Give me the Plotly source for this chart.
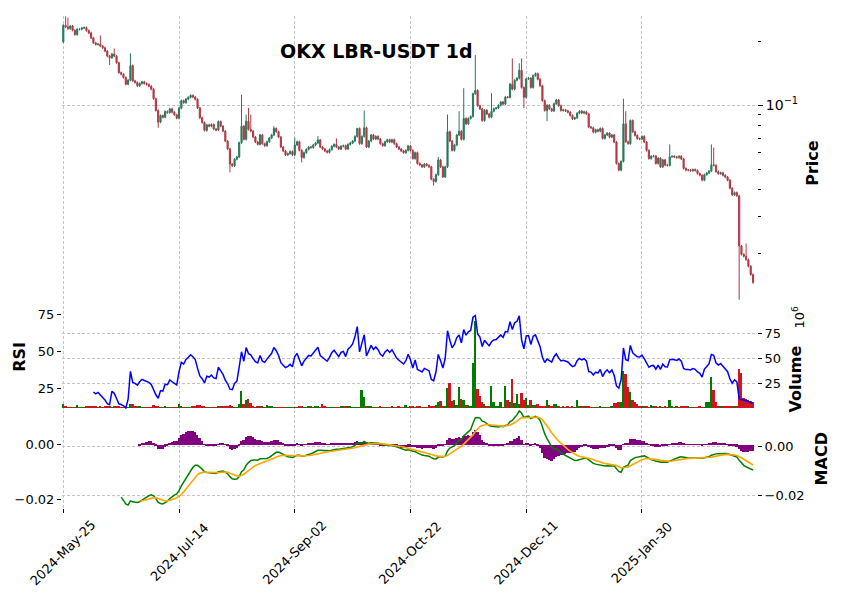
import numpy as np
import pandas as pd
import plotly.graph_objects as go

# ---------------- data ----------------
start_date = "2024-05-25"
first_open = 0.1987
closes = [
    0.2377, 0.2335, 0.2293, 0.2360, 0.2252, 0.2150, 0.2277, 0.2277, 0.2310, 0.2318,
    0.2244, 0.2189, 0.2074, 0.1965, 0.1931, 0.1938, 0.1897, 0.1863, 0.1797, 0.1702,
    0.1672, 0.1740, 0.1702, 0.1585, 0.1423, 0.1398, 0.1349, 0.1255, 0.1310, 0.1535,
    0.1301, 0.1278, 0.1233, 0.1264, 0.1287, 0.1264, 0.1251, 0.1228, 0.1189, 0.1072,
    0.0943, 0.0831, 0.0893, 0.0877, 0.0933, 0.0922, 0.0960, 0.0926, 0.0900, 0.0868,
    0.0967, 0.1050, 0.1027, 0.1068, 0.1088, 0.1111, 0.1091, 0.1065, 0.0970, 0.0871,
    0.0828, 0.0760, 0.0807, 0.0796, 0.0810, 0.0771, 0.0763, 0.0837, 0.0796, 0.0754,
    0.0677, 0.0622, 0.0527, 0.0518, 0.0556, 0.0570, 0.0665, 0.0796, 0.0690, 0.0840,
    0.0768, 0.0754, 0.0707, 0.0670, 0.0653, 0.0723, 0.0658, 0.0644, 0.0672, 0.0700,
    0.0723, 0.0776, 0.0749, 0.0707, 0.0635, 0.0608, 0.0583, 0.0591, 0.0604, 0.0583,
    0.0649, 0.0672, 0.0612, 0.0566, 0.0597, 0.0619, 0.0635, 0.0631, 0.0649, 0.0663,
    0.0685, 0.0635, 0.0621, 0.0608, 0.0599, 0.0617, 0.0640, 0.0653, 0.0635, 0.0621,
    0.0640, 0.0644, 0.0621, 0.0653, 0.0663, 0.0677, 0.0712, 0.0776, 0.0658, 0.0712,
    0.0782, 0.0635, 0.0677, 0.0723, 0.0692, 0.0712, 0.0692, 0.0658, 0.0644, 0.0672,
    0.0687, 0.0670, 0.0687, 0.0658, 0.0635, 0.0621, 0.0608, 0.0597, 0.0612, 0.0642,
    0.0612, 0.0560, 0.0597, 0.0531, 0.0522, 0.0512, 0.0527, 0.0520, 0.0512, 0.0448,
    0.0437, 0.0470, 0.0552, 0.0512, 0.0459, 0.0512, 0.0749, 0.0677, 0.0612, 0.0649,
    0.0723, 0.0754, 0.0690, 0.0865, 0.0816, 0.0865, 0.0884, 0.1131, 0.1173, 0.0994,
    0.0960, 0.0846, 0.0946, 0.0909, 0.0877, 0.0936, 0.0963, 0.0970, 0.0998, 0.1034,
    0.1012, 0.1091, 0.1088, 0.1255, 0.1189, 0.1310, 0.1339, 0.1459, 0.1211, 0.1088,
    0.1329, 0.1339, 0.1211, 0.1378, 0.1408, 0.1324, 0.1233, 0.1050, 0.0943, 0.0998,
    0.0960, 0.0939, 0.1016, 0.1057, 0.0994, 0.0943, 0.0950, 0.0939, 0.0926, 0.0893,
    0.0862, 0.0871, 0.0916, 0.0936, 0.0919, 0.0929, 0.0909, 0.0788, 0.0782, 0.0746,
    0.0765, 0.0754, 0.0776, 0.0697, 0.0723, 0.0738, 0.0707, 0.0723, 0.0670, 0.0531,
    0.0494, 0.0543, 0.0816, 0.0672, 0.0658, 0.0846, 0.0749, 0.0720, 0.0695, 0.0692,
    0.0712, 0.0670, 0.0612, 0.0560, 0.0574, 0.0576, 0.0531, 0.0562, 0.0512, 0.0552,
    0.0522, 0.0520, 0.0571, 0.0574, 0.0570, 0.0566, 0.0574, 0.0558, 0.0503, 0.0494,
    0.0494, 0.0491, 0.0497, 0.0492, 0.0476, 0.0467, 0.0443, 0.0470, 0.0479, 0.0489,
    0.0523, 0.0520, 0.0486, 0.0475, 0.0480, 0.0467, 0.0458, 0.0443, 0.0406, 0.0378,
    0.0387, 0.0374, 0.0217, 0.0198, 0.0194, 0.0187, 0.0174, 0.0159, 0.0146,
]
# notable wick extremes (index: price)
high_marks = {1: 0.262, 2: 0.258, 16: 0.213, 22: 0.185, 29: 0.1752, 77: 0.1119, 79: 0.0903,
              80: 0.0970, 81: 0.0903, 91: 0.0796, 100: 0.0702, 110: 0.0715, 118: 0.0697,
              127: 0.0782, 130: 0.0943, 162: 0.0570, 166: 0.0903, 171: 0.0936, 173: 0.1202,
              178: 0.1721, 185: 0.1139, 194: 0.166, 197: 0.1574, 198: 0.166, 242: 0.1072,
              243: 0.0936, 262: 0.0653, 280: 0.0653, 281: 0.0631, 295: 0.0223}
low_marks = {20: 0.1546, 41: 0.0782, 72: 0.0482, 103: 0.0537, 160: 0.0418, 199: 0.0970,
             209: 0.0840, 292: 0.0121}
wick_pad = 0.012  # typical small wick (fraction of price)

volume_millions = [
    4, 1.5, 0.5, 0.5, 0.5, 0.5, 3, 0.5, 0.3, 0.5,
    1, 1, 1, 1, 1, 0.5, 1, 0.5, 1, 2,
    1, 0.5, 1, 1, 1, 0.5, 0.5, 0.5, 0.5, 3.5,
    4, 2, 1, 1, 0.5, 0.5, 0.3, 0.3, 0.5, 3,
    2, 1, 0.5, 0.5, 2, 0.3, 0.3, 0.3, 0.3, 0.5,
    4, 2, 0.5, 0.5, 0.5, 0.5, 2, 1, 3, 3,
    2, 1, 0.5, 0.3, 0.3, 0.5, 0.3, 2, 1, 1,
    1, 1, 3, 1, 0.5, 0.5, 4, 17, 4, 8,
    9, 5, 2, 0.5, 2, 2, 1, 0.5, 3, 2,
    1, 0.5, 0.5, 0.5, 0.3, 0.3, 0.5, 0.3, 0.3, 0.3,
    0.5, 0.5, 2, 1, 0.3, 0.3, 1, 1, 0.5, 2,
    1, 0.3, 4, 2, 0.3, 0.3, 0.5, 0.3, 0.5, 0.5,
    2, 2, 2, 1, 1, 0.5, 0.5, 0.5, 0.5, 18,
    11, 2, 2, 2, 0.5, 0.5, 0.5, 1, 0.5, 0.5,
    0.3, 0.5, 2, 0.5, 0.5, 1, 0.5, 0.5, 3, 0.5,
    2, 1, 0.5, 1, 1, 0.5, 0.5, 0.5, 3, 2,
    1, 3, 6, 7, 2, 2, 20, 25, 7, 8,
    3, 21, 9, 8, 3, 3, 2, 45, 88, 19,
    12, 6, 4, 2, 1, 22, 6, 2, 2, 6,
    0.5, 22, 8, 6, 29, 5, 14, 4, 15, 8,
    10, 3, 8, 3, 3, 4, 2, 1, 2, 8,
    3, 1, 4, 4, 1, 0.5, 1, 0.5, 1, 0.5,
    1, 0.5, 8, 2, 2, 1, 1, 1, 0.5, 0.3,
    0.5, 0.5, 1, 0.3, 0.3, 0.5, 0.5, 2, 5, 5,
    6, 6, 37, 34, 21, 16, 8, 6, 4, 2,
    1, 2, 1, 0.5, 3, 1, 2, 0.5, 2, 0.5,
    2, 0.5, 8, 2, 0.5, 2, 0.5, 2, 1, 2,
    1, 0.5, 0.5, 0.5, 0.3, 1, 0.5, 0.5, 6, 6,
    31, 18, 6, 2, 2, 2, 1, 1, 2, 1,
    1, 1, 39, 35, 10, 9, 8, 7, 6,
]

tick_dates = ["2024-05-25", "2024-07-14", "2024-09-02", "2024-10-22", "2024-12-11", "2025-01-30"]
tick_labels = ["2024-May-25", "2024-Jul-14", "2024-Sep-02", "2024-Oct-22", "2024-Dec-11", "2025-Jan-30"]
title_text = "OKX LBR-USDT 1d"

# ---------------- derived series ----------------
dates = pd.date_range(start_date, periods=len(closes), freq="D")
opens = [first_open] + closes[:-1]
highs = [high_marks.get(i, max(o, c) * (1 + wick_pad)) for i, (o, c) in enumerate(zip(opens, closes))]
lows = [low_marks.get(i, min(o, c) * (1 - wick_pad)) for i, (o, c) in enumerate(zip(opens, closes))]

s = pd.Series(closes)
d = s.diff().fillna(0.0)
gain = d.clip(lower=0).ewm(alpha=1 / 14, adjust=False, min_periods=14).mean()
loss = (-d.clip(upper=0)).ewm(alpha=1 / 14, adjust=False, min_periods=14).mean()
rsi = 100 * gain / (gain + loss)

ema12 = s.ewm(span=12, adjust=False, min_periods=12).mean()
ema26 = s.ewm(span=26, adjust=False, min_periods=26).mean()
macd = ema12 - ema26
signal = macd.ewm(span=9, adjust=False, min_periods=9).mean()
hist = macd - signal

UP, DOWN = "#26795a", "#ad3a45"
VUP, VDOWN = "#007d00", "#d0151f"
vol_colors = [VUP if c >= o else VDOWN for o, c in zip(opens, closes)]

GRID = "#c4c4c4"
GDASH = "3px,2px"
FONT = "DejaVu Sans"

fig = go.Figure()
fig.add_trace(go.Candlestick(
    x=dates, open=opens, high=highs, low=lows, close=closes,
    increasing=dict(line=dict(color=UP, width=1), fillcolor=UP),
    decreasing=dict(line=dict(color=DOWN, width=1), fillcolor=DOWN),
    whiskerwidth=0, xaxis="x", yaxis="y", showlegend=False, hoverinfo="skip"))

fig.add_trace(go.Bar(x=dates, y=volume_millions, marker=dict(color=vol_colors, line=dict(width=0)),
                     width=0.8 * 86400000, xaxis="x2", yaxis="y2", showlegend=False))
fig.add_trace(go.Scatter(x=dates, y=rsi, mode="lines", line=dict(color="#0000ff", width=1.5),
                         xaxis="x2", yaxis="y3", showlegend=False))

fig.add_trace(go.Bar(x=dates, y=hist, marker=dict(color="#800080", line=dict(width=0)),
                     width=0.8 * 86400000, xaxis="x3", yaxis="y4", showlegend=False))
fig.add_trace(go.Scatter(x=dates, y=macd, mode="lines", line=dict(color="#008000", width=1.5),
                         xaxis="x3", yaxis="y5", showlegend=False))
fig.add_trace(go.Scatter(x=dates, y=signal, mode="lines", line=dict(color="#ffa500", width=1.6),
                         xaxis="x3", yaxis="y5", showlegend=False))

xr = ["2024-05-24 10:30", "2025-03-20 17:00"]
xcommon = dict(type="date", range=xr, tickmode="array", tickvals=tick_dates, showticklabels=False,
               showgrid=True, gridcolor=GRID, griddash=GDASH, gridwidth=1, zeroline=False,
               showline=False, domain=[0, 1])
tickfont = dict(family=FONT, size=13, color="#000")

fig.update_layout(
    width=841, height=600, paper_bgcolor="white", plot_bgcolor="white",
    margin=dict(l=62, r=84, t=12, b=92), font=dict(family=FONT, color="#000"),
    bargap=0,
    xaxis=dict(xcommon, anchor="y", rangeslider=dict(visible=False), ticks=""),
    xaxis2=dict(xcommon, anchor="y2", matches="x", ticks=""),
    xaxis3=dict(xcommon, anchor="y4", matches="x", ticks="outside", ticklen=4, tickcolor="#000"),
    yaxis=dict(domain=[0.4, 1.0], type="log", range=[np.log10(0.01069), np.log10(0.263)],
               side="right", anchor="x", tickmode="array", tickvals=[0.1],
               ticktext=["10<sup>\u22121</sup>"], ticks="outside", ticklen=5, tickcolor="#000",
               tickfont=dict(family=FONT, size=14, color="#000"),
               showgrid=True, gridcolor=GRID, griddash=GDASH, zeroline=False, showline=False,
               minor=dict(tickmode="array", tickvals=[0.2, 0.09, 0.08, 0.07, 0.06, 0.05, 0.04, 0.03, 0.02],
                          ticks="outside", ticklen=3, tickcolor="#000", showgrid=False)),
    yaxis2=dict(domain=[0.2, 0.4], range=[-1.5, 97.7], side="right", anchor="x2",
                tickmode="array", tickvals=[25, 50, 75], ticks="outside", ticklen=4, tickcolor="#000",
                tickfont=tickfont, showgrid=True, gridcolor=GRID, griddash=GDASH,
                zeroline=False, showline=False),
    yaxis3=dict(overlaying="y2", range=[10.5, 77.5], side="left", anchor="x2",
                tickmode="array", tickvals=[25, 50, 75], ticks="outside", ticklen=4, tickcolor="#000",
                tickfont=tickfont, showgrid=False, zeroline=False, showline=False),
    yaxis4=dict(domain=[0.0, 0.2], range=[-0.02327, 0.0128], side="left", anchor="x3",
                tickmode="array", tickvals=[0, -0.02], ticktext=["0.00", "\u22120.02"],
                ticks="outside", ticklen=4, tickcolor="#000", tickfont=tickfont,
                showgrid=False, zeroline=False, showline=False),
    yaxis5=dict(overlaying="y4", range=[-0.0253, 0.0152], side="right", anchor="x3",
                tickmode="array", tickvals=[0, -0.02], ticktext=["0.00", "\u22120.02"],
                ticks="outside", ticklen=4, tickcolor="#000", tickfont=tickfont,
                showgrid=True, gridcolor=GRID, griddash=GDASH, zeroline=False, showline=False),
)

ann = []
ann.append(dict(text="<b>" + title_text + "</b>", x=0.4518, y=0.9294, xref="paper", yref="paper",
                showarrow=False, font=dict(family=FONT, size=19, color="#000"),
                xanchor="center", yanchor="middle"))
lab = dict(family=FONT, size=16, color="#000")
ann.append(dict(text="<b>Price</b>", x=1.0806, y=0.7016, xref="paper", yref="paper", textangle=-90,
                showarrow=False, font=lab, xanchor="center", yanchor="middle"))
ann.append(dict(text="<b>Volume</b>", x=1.0561, y=0.2631, xref="paper", yref="paper", textangle=-90,
                showarrow=False, font=lab, xanchor="center", yanchor="middle"))
ann.append(dict(text="10<sup>6</sup>", x=1.059, y=0.387, xref="paper", yref="paper", textangle=-90,
                showarrow=False, font=dict(family=FONT, size=13, color="#000"),
                xanchor="center", yanchor="middle"))
ann.append(dict(text="<b>MACD</b>", x=1.0931, y=0.1002, xref="paper", yref="paper", textangle=-90,
                showarrow=False, font=lab, xanchor="center", yanchor="middle"))
ann.append(dict(text="<b>RSI</b>", x=-0.0604, y=0.3075, xref="paper", yref="paper", textangle=-90,
                showarrow=False, font=lab, xanchor="center", yanchor="middle"))
for tv, tl in zip(tick_dates, tick_labels):
    ann.append(dict(text=tl, x=tv, y=-0.0907, xref="x3", yref="paper", textangle=-45,
                    showarrow=False, font=tickfont, xanchor="center", yanchor="middle"))
fig.update_layout(annotations=ann)

fig.write_html("out.html")
